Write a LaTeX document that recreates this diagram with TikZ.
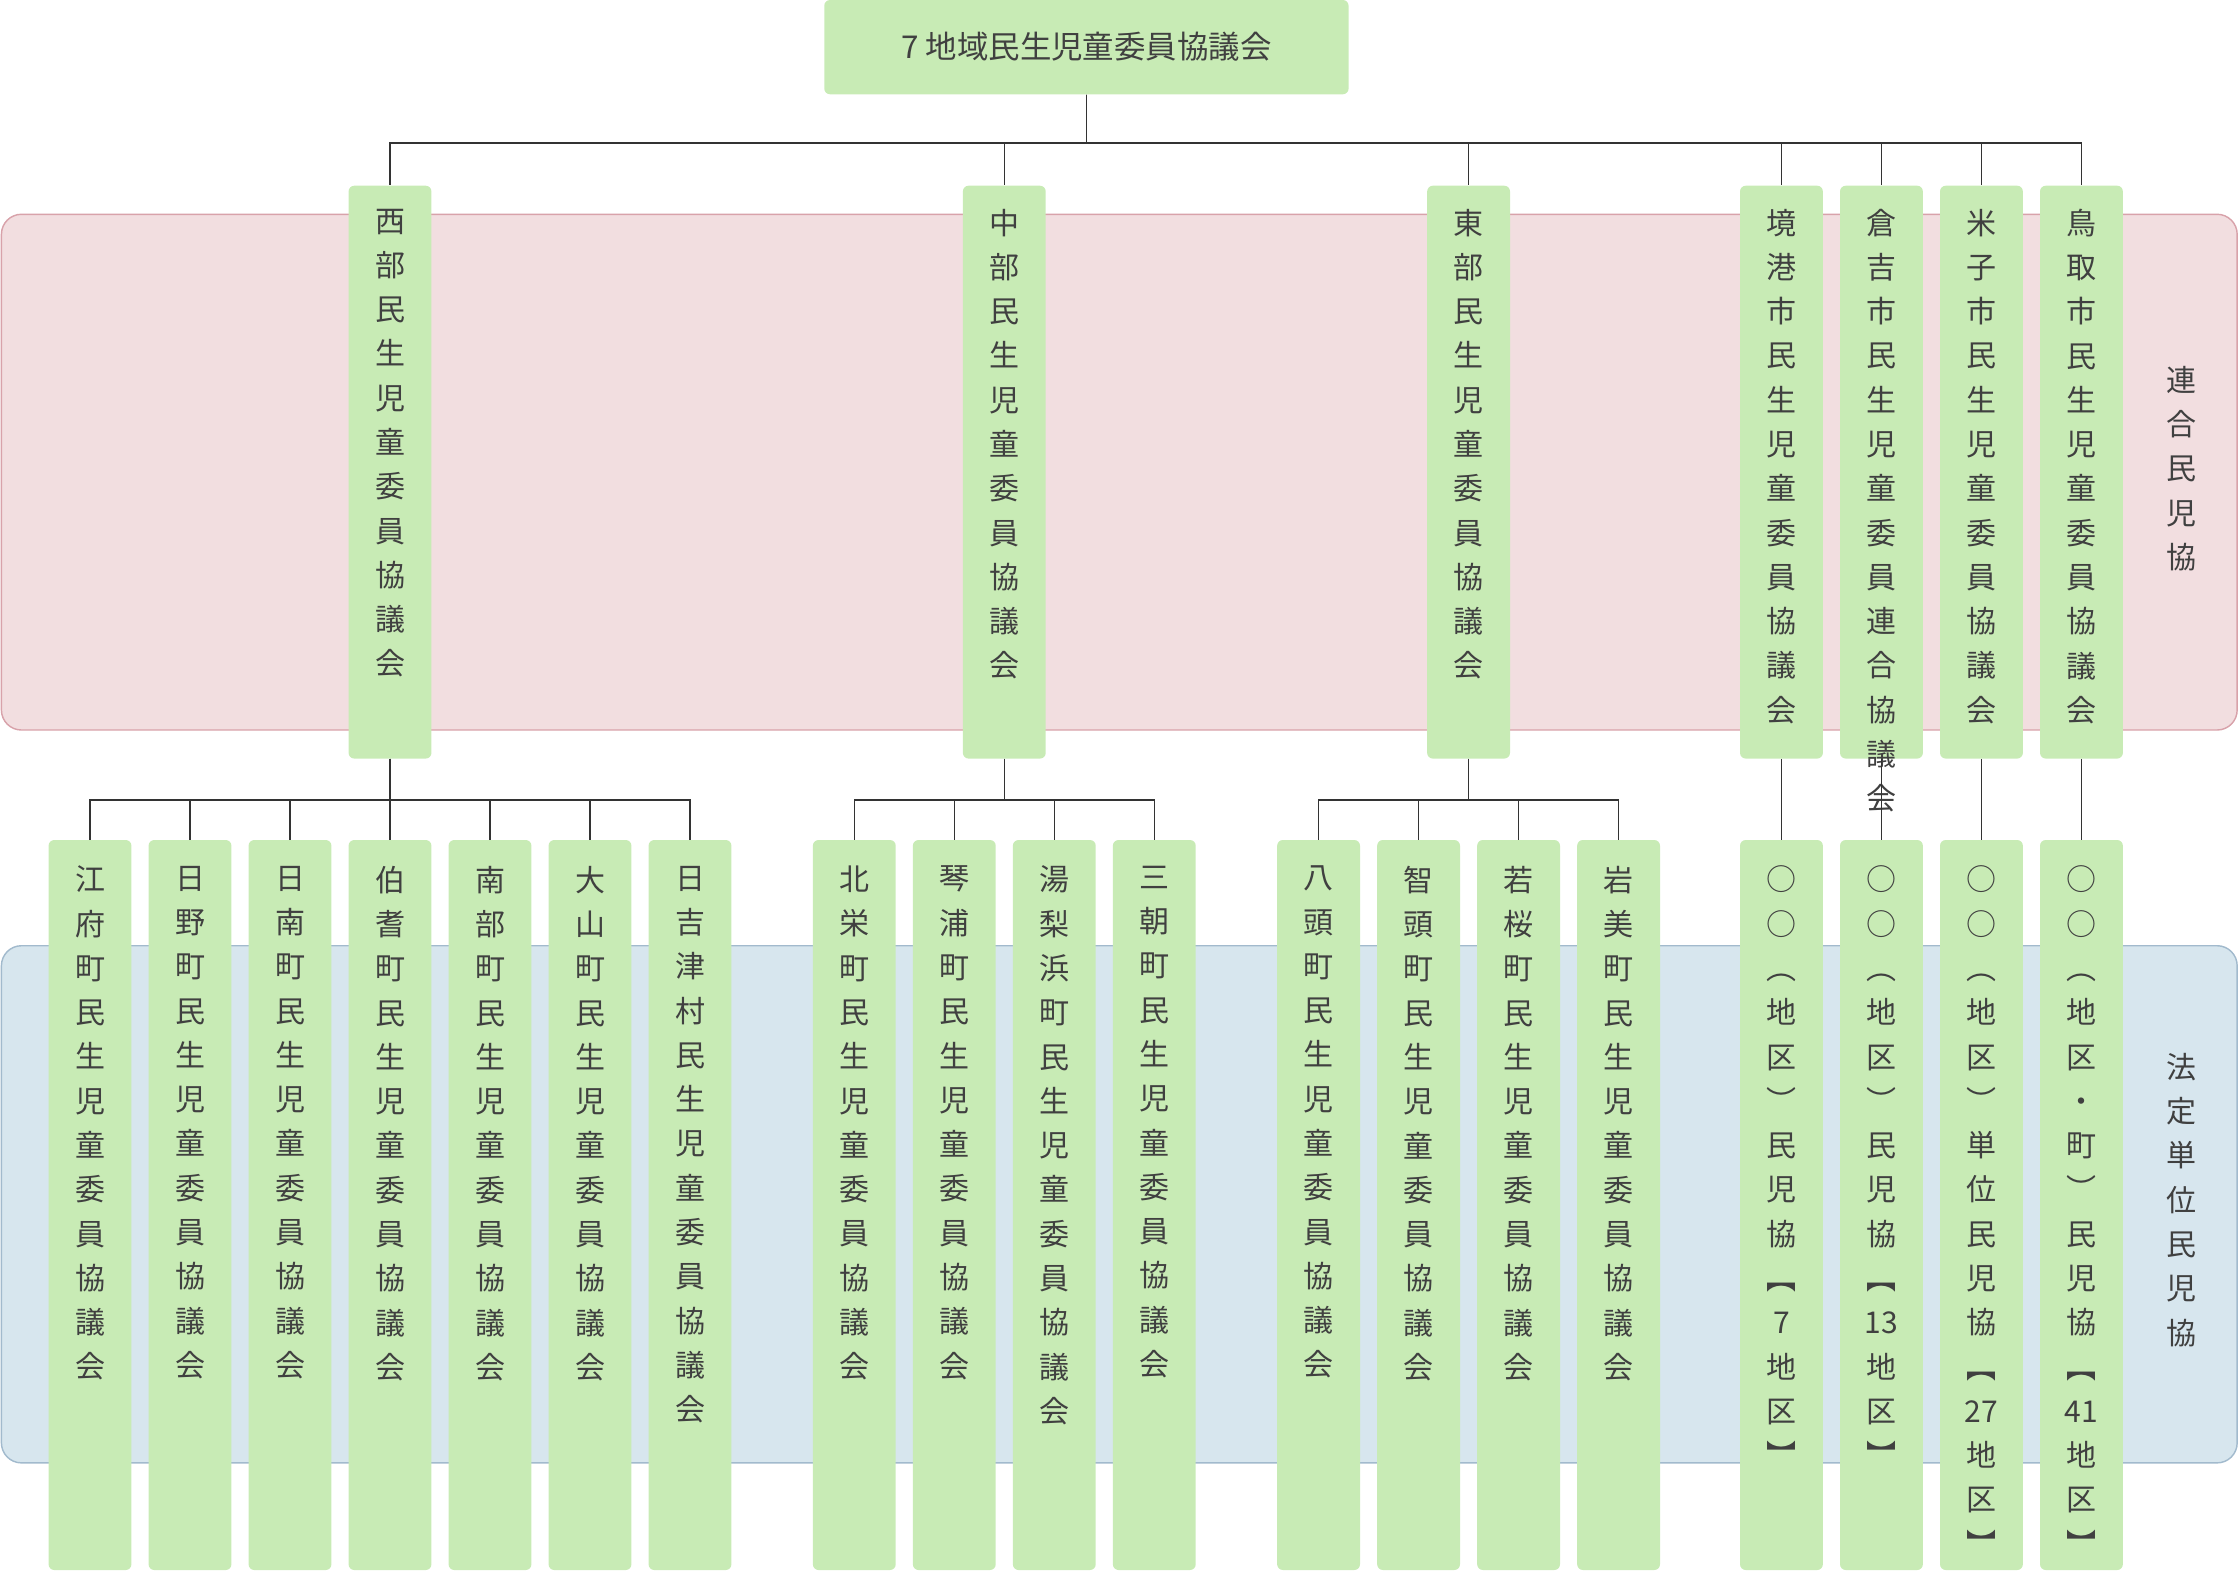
\documentclass[tikz,border=0pt]{standalone}
\usepackage{fontspec}
\setmainfont{Noto Sans CJK JP}
\definecolor{boxg}{HTML}{C8EBB5}
\definecolor{txt}{HTML}{404040}
\definecolor{pinkf}{HTML}{F2DEE0}
\definecolor{pinkd}{HTML}{D8A2AA}
\definecolor{bluef}{HTML}{D7E6EE}
\definecolor{blued}{HTML}{A2BACD}
\def\vt#1{\vtloop#1\relax}
\def\vtloop#1{\ifx#1\relax\else#1\\\expandafter\vtloop\fi}
\def\nA{13}\def\nB{27}\def\nC{41}
\begin{document}
\begin{tikzpicture}[x=1pt,y=-1pt,
  box/.style={fill=boxg,rounded corners=4pt,minimum width=58pt,inner sep=0pt},
  lab/.style={anchor=north,align=center,text=txt,font=\fontsize{21}{31}\selectfont,inner sep=0pt},
  ln/.style={draw=black!80,line width=0.9pt}]
\useasboundingbox (0,0) rectangle (1568,1114);
\fill[pinkf,draw=pinkd,rounded corners=14pt,line width=1pt] (1,150) rectangle (1566,511);
\fill[bluef,draw=blued,rounded corners=14pt,line width=1pt] (1,662) rectangle (1566,1024);
\node[lab] (bl1) at (1527,256) {\vt{連合民児協}};
\node[lab] (bl2) at (1527,737) {\vt{法定単位民児協}};
\node[box,minimum width=367pt,minimum height=66pt] (top) at (760.5,33) {};
\node[text=txt,font=\fontsize{22}{26}\selectfont] at (top) {7 地域民生児童委員協議会};
% level 2
\foreach \n/\x/\t in {a/273/西部民生児童委員協議会,b/703/中部民生児童委員協議会,c/1028/東部民生児童委員協議会,d/1247/境港市民生児童委員協議会,e/1317/倉吉市民生児童委員連合協議会,f/1387/米子市民生児童委員協議会,g/1457/鳥取市民生児童委員協議会}{
  \node[box,minimum height=401pt] (\n) at (\x,330.5) {};
  \node[lab] (\n t) at (\x,146) {\expandafter\vt\expandafter{\t}};
  \draw[ln] (top.south) -- (top.south |- 0,100) -| (\n.north);
}
% level 3
\foreach \n/\x/\p/\t in {
 a1/63/a/江府町民生児童委員協議会,a2/133/a/日野町民生児童委員協議会,a3/203/a/日南町民生児童委員協議会,a4/273/a/伯耆町民生児童委員協議会,a5/343/a/南部町民生児童委員協議会,a6/413/a/大山町民生児童委員協議会,a7/483/a/日吉津村民生児童委員協議会,
 b1/598/b/北栄町民生児童委員協議会,b2/668/b/琴浦町民生児童委員協議会,b3/738/b/湯梨浜町民生児童委員協議会,b4/808/b/三朝町民生児童委員協議会,
 c1/923/c/八頭町民生児童委員協議会,c2/993/c/智頭町民生児童委員協議会,c3/1063/c/若桜町民生児童委員協議会,c4/1133/c/岩美町民生児童委員協議会,
 d1/1247/d/○○︵地区︶民児協︻7地区︼,e1/1317/e/○○︵地区︶民児協︻\nA 地区︼,f1/1387/f/○○︵地区︶単位民児協︻\nB 地区︼,g1/1457/g/○○︵地区・町︶民児協︻\nC 地区︼}{
  \node[box,minimum height=511pt] (\n) at (\x,843.5) {};
  \node[lab] (\n t) at (\x,606) {\expandafter\vt\expandafter{\t}};
  \draw[ln] (\p.south) -- (\p.south |- 0,560) -| (\n.north);
}
\end{tikzpicture}
\end{document}
